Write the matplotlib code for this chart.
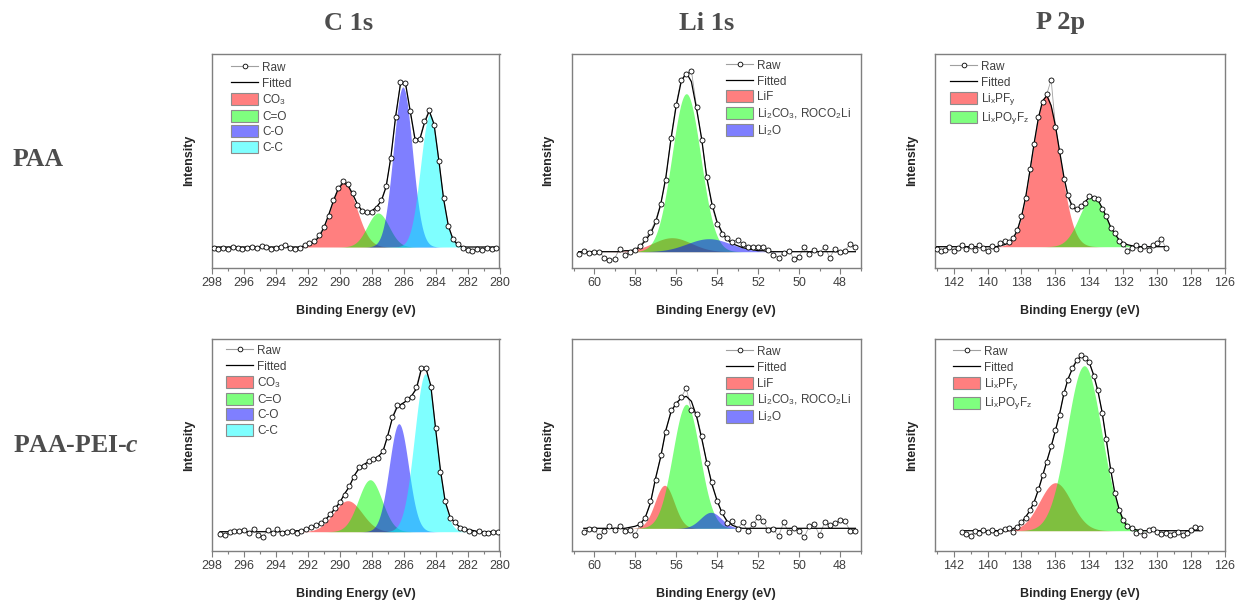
import numpy as np
import matplotlib.pyplot as plt
import matplotlib.colors as mcolors
from matplotlib.patches import Patch
from matplotlib.lines import Line2D

plt.rcParams['font.family'] = 'Liberation Sans'
plt.rcParams['mathtext.fontset'] = 'custom'
plt.rcParams['mathtext.it'] = 'Liberation Serif:italic:bold'

# ---------------- data ----------------
# C 1s, PAA
c1s_paa_be = np.linspace(297.9, 280.2, 60)
c1s_paa_fit = [0] * 18 + [0, 1, 2, 5, 10, 19, 32, 46, 58, 64, 62, 53, 43, 36, 34, 36, 40, 46, 60, 90,
                          131, 163, 165, 137, 109, 107, 124, 136, 123, 87, 48, 21, 7, 2, 0, 0, 0, 0, 0, 0,
                          0, 0]
c1s_paa_raw = [-1, -2, -1, -2, 0, -1, -2, -1, 0, -1, 1, 0, -2, -1, 0, 2, -1, -2,
               -1, 2, 4, 6, 12, 20, 31, 47, 59, 66, 63, 54, 42, 36, 35, 35, 39, 47, 61, 89,
               130, 165, 164, 136, 107, 108, 126, 137, 122, 86, 49, 21, 8, 3, -1, -3, -4, -2, -3, -1,
               -2, -1]
c1s_paa_center = [289.75, 287.6, 286.05, 284.35]
c1s_paa_height = [64, 34, 160, 133]
c1s_paa_fwhm = [1.9, 1.6, 1.4, 1.4]

# C 1s, PAA-PEI-c
c1s_pei_be = np.linspace(297.5, 280.1, 59)
c1s_pei_fit = [0] * 16 + [1, 1, 2, 4, 6, 8, 12, 17, 23, 29, 38, 45, 56, 63, 67, 70, 72, 75, 80, 96,
                          114, 125, 128, 131, 136, 143, 162, 163, 146, 103, 62, 30, 15, 9, 5, 3, 2, 1, 0, 0,
                          0, 0, 0]
c1s_pei_raw = [-2, -3, 0, 1, 1, 2, -1, 3, -3, -5, 2, -1, 3, -1, 0, 1,
               -1, 1, 3, 5, 7, 9, 12, 18, 24, 30, 37, 46, 55, 65, 66, 71, 73, 74, 81, 95,
               115, 127, 126, 133, 135, 145, 164, 164, 145, 104, 60, 31, 14, 10, 4, 3, 1, -1, 1, -1,
               -1, 0, 0]
c1s_pei_center = [289.5, 288.1, 286.3, 284.64]
c1s_pei_height = [31, 52, 108, 158]
c1s_pei_fwhm = [2.1, 1.75, 1.42, 1.6]

c1s_labels = ['CO$_\\mathregular{3}$', 'C=O', 'C-O', 'C-C']
c1s_colors = ['#ff0000', '#00ff00', '#0000ff', '#00ffff']

# Li 1s, PAA
li1s_paa_be = np.linspace(60.75, 47.25, 55)
li1s_paa_fit = [0] * 9 + [1, 1, 2, 5, 11, 18, 29, 47, 74, 112, 145, 170, 179, 170, 143, 113, 74, 48, 30, 19,
                          12, 8, 6, 4, 3, 2, 1, 1, 0] + [0] * 17
li1s_paa_raw = [-2, 1, -1, 0, 0, -6, -8, -7, 3,
                -3, 0, 2, 6, 13, 20, 31, 48, 72, 114, 147, 172, 178, 181, 145, 112, 75, 46, 28, 18,
                14, 10, 12, 8, 5, 5, 5, 5, 2,
                -3, -6, -1, 1, -7, -5, 5, -2, 2, -1, 5, -6, 3, 0, 1, 8, 5]
li1s_paa_center = [56.2, 55.5, 54.4]
li1s_paa_height = [14, 158, 13]
li1s_paa_fwhm = [2.2, 1.65, 2.5]

# Li 1s, PAA-PEI-c
li1s_pei_be = np.linspace(60.5, 47.25, 54)
li1s_pei_fit = [0] * 9 + [1, 2, 4, 11, 25, 50, 71, 98, 116, 125, 130, 132, 127, 112, 90, 66, 44, 28, 15,
                          7, 3, 1] + [0] * 23
li1s_pei_raw = [-4, -1, -1, -8, -3, 2, -2, 2, -3, -2,
                -7, 4, 10, 27, 48, 73, 96, 118, 124, 131,
                140, 118, 114, 92, 65, 46, 27, 16, 5, 7,
                -1, 6, -3, 4, 11, 7, -2, -1, -8, 6,
                -4, 0, -3, -9, 2, 4, -7, 6, 3, 5,
                8, 7, -3, -3]
li1s_pei_center = [56.56, 55.5, 54.3]
li1s_pei_height = [43, 124, 16]
li1s_pei_fwhm = [1.1, 1.55, 1.2]

li1s_labels = ['LiF', 'Li$_\\mathregular{2}$CO$_\\mathregular{3}$, ROCO$_\\mathregular{2}$Li',
               'Li$_\\mathregular{2}$O']
li1s_colors = ['#ff0000', '#00ff00', '#0000ff']

# P 2p, PAA
p2p_paa_be = np.linspace(143.0, 129.5, 55)
p2p_paa_fit = [0] * 14 + [0, 1, 2, 4, 8, 16, 30, 50, 76, 104, 129, 146, 151, 141, 121, 95, 70, 50, 40, 37,
                          40, 45, 49, 50, 47, 39, 30, 20, 13, 7, 4, 2, 1, 0] + [0] * 7
p2p_paa_raw = [-2, -4, -3, 0, -4, -1, 2, -2, 1, -3, 2, -1, -4, 1,
               -2, 4, 6, 5, 9, 17, 31, 49, 78, 103, 130, 145, 153, 167, 120, 96, 68, 52, 41, 38,
               41, 44, 51, 49, 48, 38, 31, 19, 14, 6, 3, -4, -1, 2,
               -2, 1, -3, 2, 4, 8, -1]
p2p_paa_center = [136.55, 133.8]
p2p_paa_height = [151, 50]
p2p_paa_fwhm = [1.9, 1.85]

# P 2p, PAA-PEI-c
p2p_pei_be = np.linspace(141.5, 127.5, 57)
p2p_pei_fit = [0] * 12 + [2, 4, 8, 14, 20, 29, 41, 55, 70, 84, 100, 117, 137, 152, 162, 170, 174, 174, 168, 156,
                          140, 119, 91, 62, 38, 22, 10, 4, 2, 1] + [0] * 15
p2p_pei_raw = [-1, -3, -5, 0, -2, 1, -1, 1, -2, 0,
               2, 3, -1, 4, 9, 13, 21, 28, 42, 56,
               69, 85, 101, 116, 138, 151, 163, 171, 176, 173,
               169, 155, 141, 118, 92, 61, 38, 21, 11, 5,
               3, -2, 0, -4, 1, 2, -1, -3, -2, -4,
               -3, -1, -4, -2, 1, 4, 3]
p2p_pei_center = [136.0, 134.3]
p2p_pei_height = [48, 165]
p2p_pei_fwhm = [2.2, 2.4]

p2p_labels = ['Li$_\\mathregular{x}$PF$_\\mathregular{y}$',
              'Li$_\\mathregular{x}$PO$_\\mathregular{y}$F$_\\mathregular{z}$']
p2p_colors = ['#ff0000', '#00ff00']

col_titles = ['C 1s', 'Li 1s', 'P 2p']
row_titles = ['PAA', 'PAA-PEI-$c$']

# ---------------- layout ----------------
W, H = 1237, 600
fig = plt.figure(figsize=(W / 100, H / 100), dpi=100)


def px_axes(left, top, right, bottom):
    return fig.add_axes([left / W, 1 - bottom / H, (right - left) / W, (bottom - top) / H])


panels = [
    dict(box=(212, 53.5, 499.5, 267.5), be=c1s_paa_be, fit=c1s_paa_fit, raw=c1s_paa_raw,
         cen=c1s_paa_center, hei=c1s_paa_height, fw=c1s_paa_fwhm, labels=c1s_labels, colors=c1s_colors,
         xlim=(298, 280), ylim=(-20.5, 193.5), major=np.arange(280, 299, 2), minor=np.arange(281, 298, 2),
         leg=(0.066, 0.965)),
    dict(box=(571.5, 53.5, 860.5, 267.5), be=li1s_paa_be, fit=li1s_paa_fit, raw=li1s_paa_raw,
         cen=li1s_paa_center, hei=li1s_paa_height, fw=li1s_paa_fwhm, labels=li1s_labels, colors=li1s_colors,
         xlim=(61.1, 47.1), ylim=(-15.8, 198.2), major=np.arange(48, 61, 2), minor=np.arange(47, 62, 2),
         leg=(0.535, 0.974)),
    dict(box=(935, 53.5, 1225, 267.5), be=p2p_paa_be, fit=p2p_paa_fit, raw=p2p_paa_raw,
         cen=p2p_paa_center, hei=p2p_paa_height, fw=p2p_paa_fwhm, labels=p2p_labels, colors=p2p_colors,
         xlim=(143.1, 126), ylim=(-20.8, 193.2), major=np.arange(126, 143, 2), minor=np.arange(127, 144, 2),
         leg=(0.052, 0.97)),
    dict(box=(212, 339.3, 499.5, 551), be=c1s_pei_be, fit=c1s_pei_fit, raw=c1s_pei_raw,
         cen=c1s_pei_center, hei=c1s_pei_height, fw=c1s_pei_fwhm, labels=c1s_labels, colors=c1s_colors,
         xlim=(298, 280), ylim=(-19.3, 192.4), major=np.arange(280, 299, 2), minor=np.arange(281, 298, 2),
         leg=(0.049, 0.978)),
    dict(box=(571.5, 339.3, 860.5, 551), be=li1s_pei_be, fit=li1s_pei_fit, raw=li1s_pei_raw,
         cen=li1s_pei_center, hei=li1s_pei_height, fw=li1s_pei_fwhm, labels=li1s_labels, colors=li1s_colors,
         xlim=(61.1, 47.1), ylim=(-22.7, 189), major=np.arange(48, 61, 2), minor=np.arange(47, 62, 2),
         leg=(0.535, 0.971)),
    dict(box=(935, 339.3, 1225, 551), be=p2p_pei_be, fit=p2p_pei_fit, raw=p2p_pei_raw,
         cen=p2p_pei_center, hei=p2p_pei_height, fw=p2p_pei_fwhm, labels=p2p_labels, colors=p2p_colors,
         xlim=(143.1, 126), ylim=(-20.3, 191.4), major=np.arange(126, 143, 2), minor=np.arange(127, 144, 2),
         leg=(0.062, 0.972)),
]

spine_col = '#7f7f7f'
txt_col = '#262626'

for p in panels:
    ax = px_axes(*p['box'])
    be = np.asarray(p['be'])
    xf = np.linspace(be.min(), be.max(), 800)
    # fitted components (gaussian peaks)
    for c, h, w, col in zip(p['cen'], p['hei'], p['fw'], p['colors']):
        yf = h * np.exp(-4 * np.log(2) * (xf - c) ** 2 / w ** 2)
        ax.fill_between(xf, 0, yf, color=col, alpha=0.5, linewidth=0, zorder=1)
    ax.plot(be, p['raw'], '-', color='#a0a0a0', lw=0.6, zorder=2)
    ax.plot(be, p['fit'], '-', color='black', lw=0.9, zorder=3)
    ax.plot(be, p['raw'], 'o', ms=3.6, mfc='white', mec='black', mew=0.6, zorder=4)

    ax.set_xlim(*p['xlim'])
    ax.set_ylim(*p['ylim'])
    ax.set_yticks([])
    ax.set_xticks(p['major'])
    ax.set_xticks(p['minor'], minor=True)
    ax.tick_params(axis='x', which='major', direction='out', length=4, width=0.8, color=spine_col,
                   labelsize=9, labelcolor='#404040', pad=2.5)
    ax.tick_params(axis='x', which='minor', direction='out', length=2, width=0.8, color=spine_col)
    for s in ax.spines.values():
        s.set_color(spine_col)
        s.set_linewidth(1.0)

    ax.set_xlabel('Binding Energy (eV)', fontsize=9, fontweight='bold', color=txt_col)
    ax.xaxis.set_label_coords(0.5, -0.175)
    ax.set_ylabel('Intensity', fontsize=9, fontweight='bold', color=txt_col)
    ax.yaxis.set_label_coords(-0.059, 0.5)

    handles = [Line2D([0], [0], color='#a0a0a0', lw=0.8, marker='o', ms=3.4, mfc='white', mec='black', mew=0.6),
               Line2D([0], [0], color='black', lw=0.9)]
    for col in p['colors']:
        handles.append(Patch(facecolor=mcolors.to_rgba(col, 0.5), edgecolor='#8c8c8c', linewidth=0.8))
    ax.legend(handles, ['Raw', 'Fitted'] + p['labels'], loc='upper left', bbox_to_anchor=p['leg'],
              frameon=False, fontsize=8.5, borderpad=0, borderaxespad=0, handlelength=2.3,
              handleheight=1.2, handletextpad=0.35, labelspacing=0.22, labelcolor='#404040')

# column and row titles
for x, t in zip([349, 707, 1061], col_titles):
    fig.text(x / W, 1 - 23 / H, t, ha='center', va='center', fontsize=19, fontweight='bold',
             family='Liberation Serif', color='#4d4d4d')
for y, t in zip([159, 446], row_titles):
    fig.text(13 / W, 1 - y / H, t, ha='left', va='center', fontsize=18.5, fontweight='bold',
             family='Liberation Serif', color='#4d4d4d')

fig.savefig('out.png', dpi=100)
